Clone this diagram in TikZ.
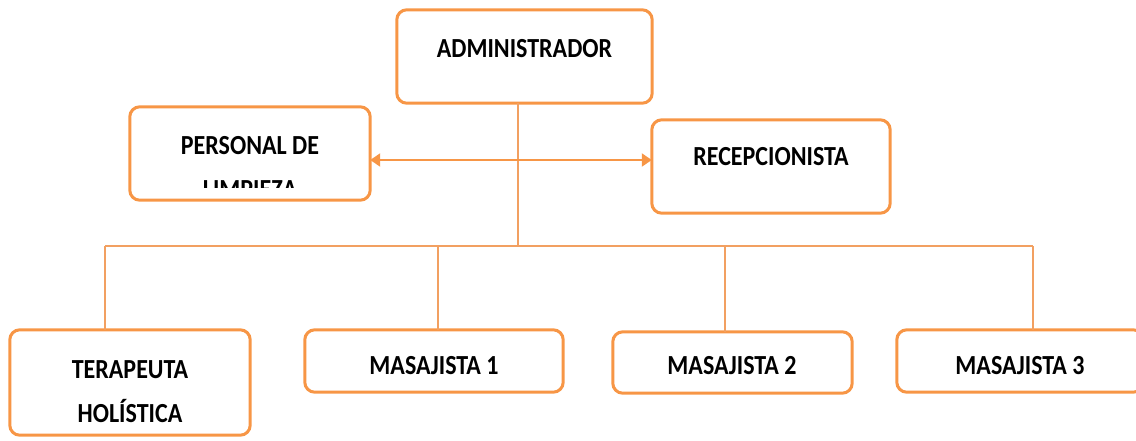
\documentclass[tikz,border=0pt]{standalone}
\usepackage{fontspec}
\setmainfont{Carlito}
\usetikzlibrary{arrows.meta}
\definecolor{boxorange}{HTML}{F79646}
\definecolor{lineorange}{HTML}{F2A061}
% one or more centred lines, set slightly tall
\newcommand{\tallbox}[1]{\scalebox{1}[1.15]{\begin{tabular}{@{}c@{}}#1\end{tabular}}}
\tikzset{
  box/.style={draw=boxorange, line width=3pt, rounded corners=10pt, fill=white},
  frame/.style={inner sep=0pt},
  lbl/.style={inner sep=0pt, anchor=center,
    font=\fontsize{24}{38}\selectfont\bfseries},
  conn/.style={draw=lineorange, line width=1.4pt},
  dblarrow/.style={draw=boxorange, line width=2pt,
    {Triangle[length=10pt,width=13pt]}-{Triangle[length=10pt,width=13pt]}}
}
\begin{document}
\begin{tikzpicture}[x=1pt,y=-1pt]
\useasboundingbox (0,0) rectangle (1136,440);
\clip (0,0) rectangle (1136,440);

% boxes
\node[frame, minimum width=255pt, minimum height=93pt] (adm) at (524.5,56.5) {};
\node[frame, minimum width=240pt, minimum height=93pt] (per) at (250,153.5) {};
\node[frame, minimum width=238pt, minimum height=93pt] (rec) at (771,166.5) {};
\node[frame, minimum width=240pt, minimum height=105pt] (ter) at (130,382.5) {};
\node[frame, minimum width=258pt, minimum height=62pt] (ma1) at (434,361) {};
\node[frame, minimum width=239pt, minimum height=61pt] (ma2) at (732.5,362.5) {};
\node[frame, minimum width=246pt, minimum height=62pt] (ma3) at (1020,361) {};
\foreach \b in {adm,per,rec,ter,ma1,ma2,ma3}
  \draw[box] (\b.north west) rectangle (\b.south east);

% labels
\node[lbl] (admT) at (524.5,49) {\tallbox{ADMINISTRADOR}};
\node[lbl] (recT) at (771,157) {\tallbox{RECEPCIONISTA}};
\begin{scope}
  \clip (132,109) rectangle (368,187);
  \node[lbl] (perT) at (250,168) {\tallbox{PERSONAL DE\\LIMPIEZA}};
\end{scope}
\node[lbl] (terT) at (130,392) {\tallbox{TERAPEUTA\\HOLÍSTICA}};
\node[lbl] (ma1T) at (434,366) {\tallbox{MASAJISTA 1}};
\node[lbl] (ma2T) at (732,366) {\tallbox{MASAJISTA 2}};
\node[lbl] (ma3T) at (1020,366) {\tallbox{MASAJISTA 3}};

% connectors
\coordinate (hub) at (518,246);
\coordinate (busL) at (105,246);
\coordinate (bus1) at (438,246);
\coordinate (bus2) at (725,246);
\coordinate (busR) at (1033,246);
\draw[conn] (adm.south -| hub) -- (hub);
\draw[conn] (busL) -- (busR);
\draw[conn] (busL) -- (busL |- ter.north);
\draw[conn] (bus1) -- (bus1 |- ma1.north);
\draw[conn] (bus2) -- (bus2 |- ma2.north);
\draw[conn] (busR) -- (busR |- ma3.north);
\draw[dblarrow] (per.east |- 0,160) -- (rec.west |- 0,160);
\end{tikzpicture}
\end{document}
